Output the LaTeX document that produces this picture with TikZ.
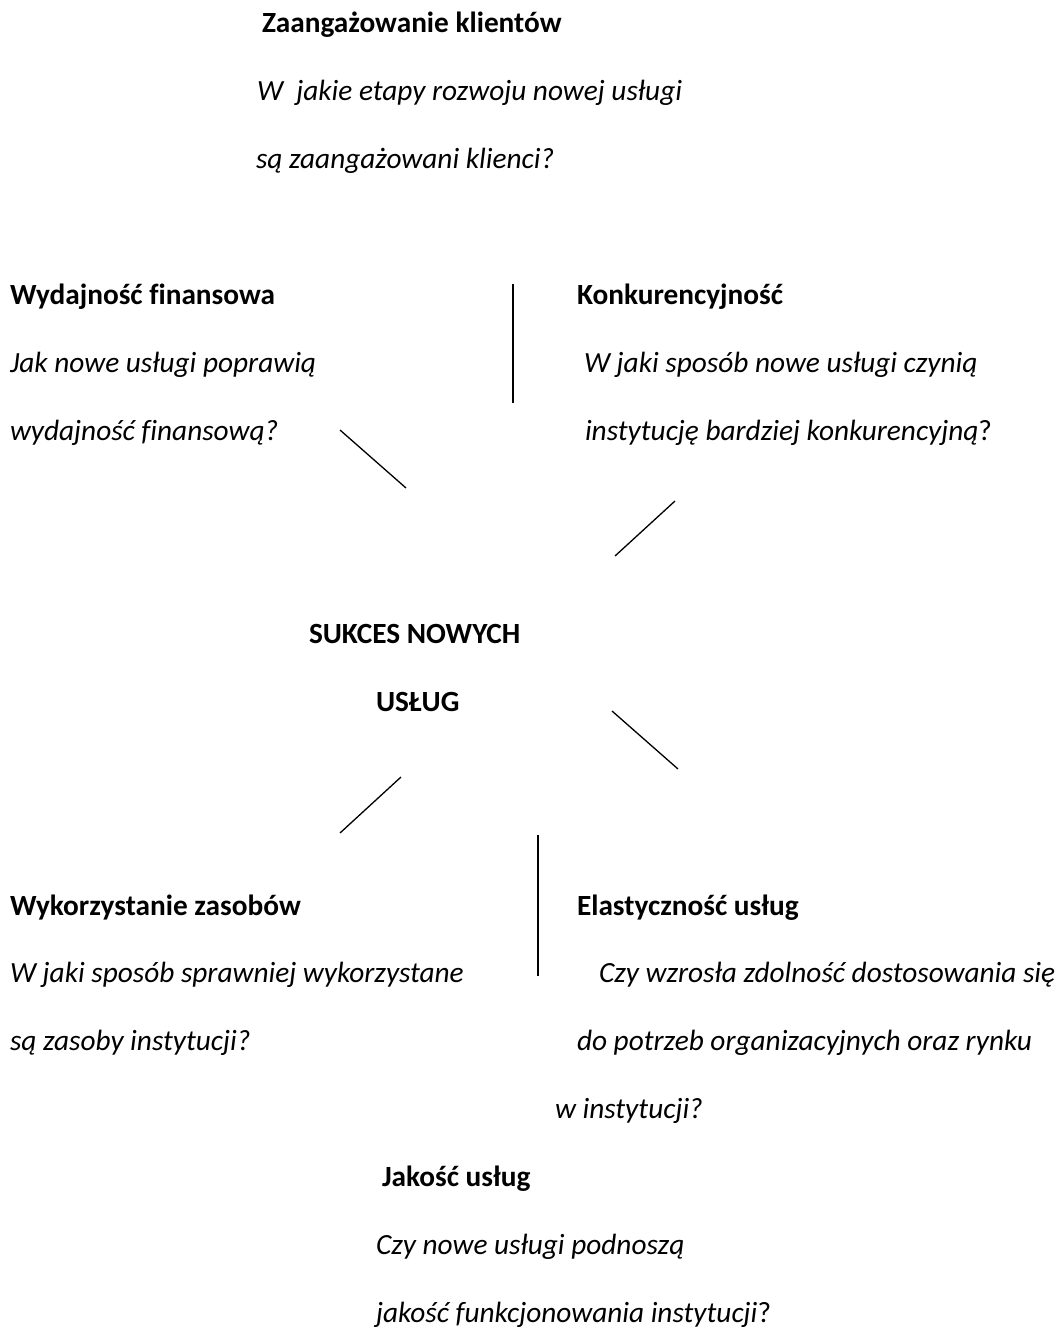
\documentclass[tikz,border=0pt]{standalone}
\usepackage{fontspec}
\setmainfont{Carlito}[Ligatures=NoCommon]
\begin{document}
\begin{tikzpicture}[x=1pt,y=-1pt,
  txt/.style={anchor=base west,inner sep=0pt,outer sep=0pt,font=\fontsize{29.3}{35}\selectfont},
  hd/.style={txt,font=\fontsize{29.3}{35}\selectfont\bfseries},
  it/.style={txt,font=\fontsize{29.3}{35}\selectfont\itshape},
  ln/.style={line width=1.3pt,black}]
\useasboundingbox[fill=white] (0,0) rectangle (1059,1327);
% top block
\node[hd] (zh) at (262,33) {Zaangażowanie klientów};
\node[it] (z1) at (257,100.8) {W~~jakie etapy rozwoju nowej usługi};
\node[it] (z2) at (256,168.7) {są zaangażowani klienci?};
% left-top block
\node[hd] (wh) at (10,304.4) {Wydajność finansowa};
\node[it] (w1) at (10,372.2) {Jak nowe usługi poprawią};
\node[it] (w2) at (10,440) {wydajność finansową?};
% right-top block
\node[hd] (kh) at (577,304.4) {Konkurencyjność};
\node[it] (k1) at (584,372.2) {W jaki sposób nowe usługi czynią};
\node[it] (k2) at (585,440) {instytucję bardziej konkurencyjną\upshape ?};
% centre
\node[hd] (s1) at (309,643.6) {SUKCES NOWYCH};
\node[hd] (s2) at (376,711.4) {USŁUG};
% left-bottom block
\node[hd] (rh) at (10,915) {Wykorzystanie zasobów};
\node[it] (r1) at (10,982.8) {W jaki sposób sprawniej wykorzystane};
\node[it] (r2) at (10,1050.6) {są zasoby instytucji?};
% right-bottom block
\node[hd] (eh) at (577,915) {Elastyczność usług};
\node[it] (e1) at (599,982.8) {Czy wzrosła zdolność dostosowania się};
\node[it] (e2) at (577,1050.6) {do potrzeb organizacyjnych oraz rynku};
\node[it] (e3) at (555,1118.4) {w instytucji?};
% bottom block
\node[hd] (jh) at (382,1186.3) {Jakość usług};
\node[it] (j1) at (376,1254.1) {Czy nowe usługi podnoszą};
\node[it] (j2) at (376,1322) {jakość funkcjonowania instytucji\upshape ?};
% line ends
\coordinate (v1a) at (513,284);  \coordinate (v1b) at (513,403);
\coordinate (d1a) at (340,430);  \coordinate (d1b) at (406,488);
\coordinate (d2a) at (675,501);  \coordinate (d2b) at (615,556);
\coordinate (d3a) at (612,711);  \coordinate (d3b) at (678,769);
\coordinate (d4a) at (401,777);  \coordinate (d4b) at (340,833);
\coordinate (v2a) at (538,835);  \coordinate (v2b) at (538,976);
\draw[ln] (v1a) -- (v1b);
\draw[ln] (d1a) -- (d1b);
\draw[ln] (d2a) -- (d2b);
\draw[ln] (d3a) -- (d3b);
\draw[ln] (d4a) -- (d4b);
\draw[ln] (v2a) -- (v2b);
\end{tikzpicture}
\end{document}
